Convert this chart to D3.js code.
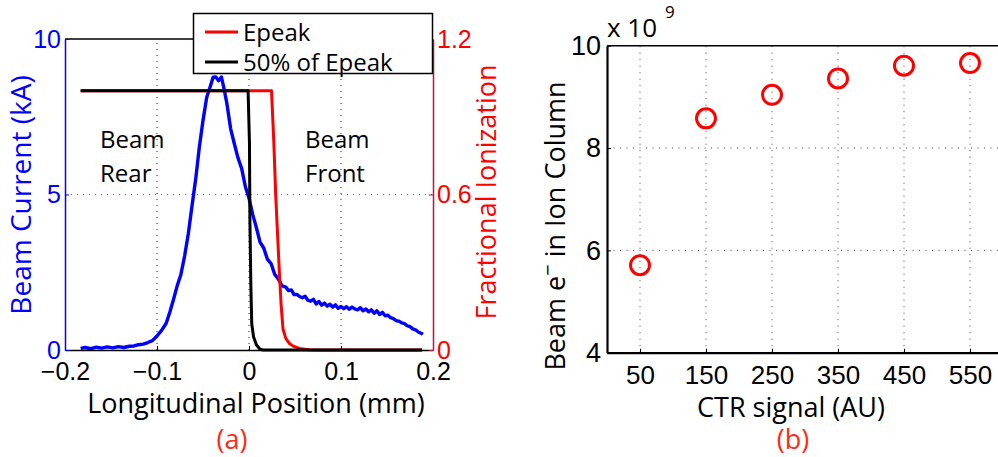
<!DOCTYPE html>
<html>
<head>
<meta charset="utf-8">
<script src="https://cdn.jsdelivr.net/npm/d3@7"></script>
<style>
  html, body { margin: 0; padding: 0; background: #fff; }
  svg { display: block; font-family: "Open Sans", sans-serif; }
</style>
</head>
<body>
<svg id="chart" width="998" height="457"></svg>
<script>
// ---------------- DATA ----------------
// Panel (a): beam current profile (kA) vs longitudinal position (mm)
const posMM = [-0.183,-0.178,-0.172,-0.166,-0.160,-0.154,-0.148,-0.142,-0.136,-0.130,-0.125,-0.120,-0.115,-0.110,-0.105,
  -0.100,-0.095,-0.090,-0.086,-0.082,-0.078,-0.074,-0.070,-0.066,-0.062,-0.058,-0.054,-0.050,-0.046,-0.042,-0.039,-0.036,
  -0.033,-0.030,-0.027,-0.024,-0.020,-0.016,-0.012,-0.008,-0.004,0.000,0.004,0.008,0.012,0.016,0.020,0.024,0.028,0.032,
  0.036,0.040,0.043,0.046,0.049,0.052,0.055,0.058,0.061,0.064,0.067,0.070,0.073,0.076,0.079,0.082,0.085,0.088,0.091,
  0.094,0.097,0.100,0.103,0.106,0.109,0.112,0.115,0.118,0.121,0.124,0.127,0.130,0.133,0.136,0.139,0.142,0.145,0.148,
  0.151,0.154,0.157,0.160,0.163,0.166,0.169,0.172,0.175,0.178,0.181,0.184,0.187,0.189];
const beamCurrentKA = [0.05,0.08,0.04,0.09,0.06,0.10,0.07,0.11,0.08,0.12,0.13,0.17,0.19,0.24,0.30,
  0.45,0.63,0.86,1.22,1.63,2.07,2.43,3.02,3.73,4.62,5.48,6.52,7.38,8.12,8.48,8.77,8.78,
  8.66,8.78,8.38,7.92,7.12,6.64,6.18,5.84,5.26,4.88,4.36,3.94,3.47,3.28,2.92,2.78,2.43,2.28,
  2.06,2.02,1.91,1.93,1.78,1.79,1.72,1.68,1.73,1.60,1.57,1.63,1.48,1.56,1.44,1.51,1.41,1.47,1.38,
  1.45,1.34,1.40,1.33,1.39,1.31,1.38,1.32,1.29,1.36,1.26,1.32,1.23,1.29,1.18,1.26,1.14,1.21,1.10,
  1.12,1.04,1.01,0.94,0.93,0.87,0.85,0.78,0.75,0.68,0.65,0.58,0.54,0.50];

// Fractional ionization, Epeak
const epeakX    = [-0.183,0.0245,0.027,0.029,0.031,0.033,0.035,0.037,0.040,0.044,0.048,0.055,0.065,0.075,0.188];
const epeakFrac = [1.0,   1.0,   0.80, 0.60, 0.45, 0.30, 0.17, 0.08, 0.045,0.025,0.015,0.006,0.001,0.0,  0.0];
// Fractional ionization, 50% of Epeak
const halfX     = [-0.183,-0.001,0.0005,0.001,0.002,0.003,0.005,0.008,0.012,0.015,0.188];
const halfFrac  = [1.0,   1.0,   0.80,  0.50, 0.25, 0.10, 0.05, 0.02, 0.003,0.0,  0.0];

const xTicksA   = [-0.2,-0.1,0,0.1,0.2];
const yTicksA   = [0,5,10];
const yTicksA2  = [0,0.6,1.2];
const xGridA    = [-0.1,0,0.1];

// Panel (b): beam electrons in ion column vs CTR signal
const ctrSignal     = [50,150,250,350,450,550];
const beamElectrons = [5.71,8.58,9.04,9.36,9.61,9.66];   // x 10^9
const yTicksB       = [4,6,8,10];
const yGridB        = [6,8];

const legendLabels = ["Epeak","50% of Epeak"];

// ---------------- DRAWING ----------------
const svg = d3.select("#chart");
const BLUE = "#0000ff", RED = "#ff0000", CRIMSON = "#c8103c", LBL_RED = "#ff2a14";

// ===== Panel (a) =====
const xA  = d3.scaleLinear().domain([-0.2,0.2]).range([65,433]);
const yA  = d3.scaleLinear().domain([0,10]).range([350,39]);
const yA2 = d3.scaleLinear().domain([0,1.2]).range([350,39]);

const gA = svg.append("g");
// grid
gA.selectAll(".vg").data(xGridA).join("line")
  .attr("x1", d => xA(d)).attr("x2", d => xA(d)).attr("y1", yA(0)).attr("y2", yA(10))
  .attr("stroke", "#222").attr("stroke-width", 1).attr("stroke-dasharray", "1,5");
gA.append("line").attr("x1", xA(-0.2)).attr("x2", xA(0.2)).attr("y1", yA(5)).attr("y2", yA(5))
  .attr("stroke", "#6a6aff").attr("stroke-width", 1).attr("stroke-dasharray", "1,5");

// lines
const lineA  = d3.line().x(d => xA(d[0])).y(d => yA(d[1]));
const lineA2 = d3.line().x(d => xA(d[0])).y(d => yA2(d[1]));
gA.append("path").datum(posMM.map((x,i) => [x, beamCurrentKA[i]])).attr("d", lineA)
  .attr("fill","none").attr("stroke", BLUE).attr("stroke-width", 3.4).attr("stroke-linejoin","round");
gA.append("path").datum(epeakX.map((x,i) => [x, epeakFrac[i]])).attr("d", lineA2)
  .attr("fill","none").attr("stroke", RED).attr("stroke-width", 3).attr("stroke-linejoin","round");
gA.append("path").datum(halfX.map((x,i) => [x, halfFrac[i]])).attr("d", lineA2)
  .attr("fill","none").attr("stroke", "#000").attr("stroke-width", 3).attr("stroke-linejoin","round");

// axes
const axBottomA = d3.axisBottom(xA).tickValues(xTicksA).tickSizeInner(-4).tickSizeOuter(0)
  .tickFormat(d => d === 0 ? "0" : d3.format(".1f")(d));
const gxA = gA.append("g").attr("transform", `translate(0,${yA(0)})`).call(axBottomA);
gxA.select(".domain").attr("stroke","#000").attr("stroke-width",1.5);
gxA.selectAll("text").attr("font-size", 25).attr("fill","#000").attr("y", 12).attr("dy","0.71em");

gA.append("line").attr("x1", xA(-0.2)).attr("x2", xA(0.2)).attr("y1", yA(10)).attr("y2", yA(10))
  .attr("stroke","#000").attr("stroke-width",1.5);

const axLeftA = d3.axisLeft(yA).tickValues(yTicksA).tickSizeInner(-4).tickSizeOuter(0).tickFormat(d3.format("d"));
const gyA = gA.append("g").attr("transform", `translate(${xA(-0.2)},0)`).call(axLeftA);
gyA.select(".domain").attr("stroke", BLUE).attr("stroke-width",1.5);
gyA.selectAll(".tick line").attr("stroke", BLUE);
gyA.selectAll("text").attr("font-size", 25).attr("fill", BLUE).attr("x", -4);

const axRightA = d3.axisRight(yA2).tickValues(yTicksA2).tickSizeInner(-4).tickSizeOuter(0)
  .tickFormat(d => d === 0 ? "0" : d3.format(".1f")(d));
const gyA2 = gA.append("g").attr("transform", `translate(${xA(0.2)},0)`).call(axRightA);
gyA2.select(".domain").attr("stroke", CRIMSON).attr("stroke-width",1.5);
gyA2.selectAll(".tick line").attr("stroke", CRIMSON);
gyA2.selectAll("text").attr("font-size", 25).attr("fill", RED).attr("x", 4);

// axis labels
gA.append("text").attr("x", (xA(-0.2)+xA(0.2))/2 + 7).attr("y", 413).attr("text-anchor","middle")
  .attr("font-size", 27).attr("fill","#000").text("Longitudinal Position (mm)");
gA.append("text").attr("transform", `translate(31,${195}) rotate(-90)`).attr("text-anchor","middle")
  .attr("font-size", 28).attr("fill", BLUE).text("Beam Current (kA)");
gA.append("text").attr("transform", `translate(496,${192}) rotate(-90)`).attr("text-anchor","middle")
  .attr("font-size", 27).attr("fill", RED).text("Fractional Ionization");
gA.append("text").attr("x", 232).attr("y", 449).attr("text-anchor","middle")
  .attr("font-size", 27).attr("fill", LBL_RED).text("(a)");

// annotations
const ann = [["Beam", 100, 148], ["Rear", 100, 182], ["Beam", 305, 148], ["Front", 305, 182]];
gA.selectAll(".ann").data(ann).join("text").attr("x", d => d[1]).attr("y", d => d[2])
  .attr("font-size", 24).attr("fill","#000").text(d => d[0]);

// legend
const lg = gA.append("g");
lg.append("rect").attr("x", 193.5).attr("y", 13.5).attr("width", 239).attr("height", 60)
  .attr("fill","#fff").attr("stroke","#000").attr("stroke-width",1.5);
const legColors = [RED, "#000"];
legendLabels.forEach((lab, i) => {
  const yy = 32 + i*30;
  lg.append("line").attr("x1", 205).attr("x2", 238).attr("y1", yy).attr("y2", yy)
    .attr("stroke", legColors[i]).attr("stroke-width", 3);
  lg.append("text").attr("x", 243).attr("y", yy + 8.5).attr("font-size", 24).attr("fill","#000").text(lab);
});

// ===== Panel (b) =====
const xB = d3.scaleLinear().domain([0,600]).range([607,1003]);
const yB = d3.scaleLinear().domain([4,10]).range([352.7,45.7]);
const gB = svg.append("g");

gB.selectAll(".vg").data(ctrSignal).join("line")
  .attr("x1", d => xB(d)).attr("x2", d => xB(d)).attr("y1", yB(4)).attr("y2", yB(10))
  .attr("stroke", "#444").attr("stroke-width", 1).attr("stroke-dasharray", "1,5.5");
gB.selectAll(".hg").data(yGridB).join("line")
  .attr("x1", xB(0)).attr("x2", xB(600)).attr("y1", d => yB(d)).attr("y2", d => yB(d))
  .attr("stroke", "#444").attr("stroke-width", 1).attr("stroke-dasharray", "1,5.5");

const axBottomB = d3.axisBottom(xB).tickValues(ctrSignal).tickSizeInner(-4).tickSizeOuter(0).tickFormat(d3.format("d"));
const gxB = gB.append("g").attr("transform", `translate(0,${yB(4)})`).call(axBottomB);
gxB.select(".domain").attr("stroke","#000").attr("stroke-width",2.2);
gxB.selectAll("text").attr("font-size", 26).attr("fill","#000").attr("y", 13).attr("dy","0.71em");

gB.append("line").attr("x1", xB(0)).attr("x2", xB(600)).attr("y1", yB(10)).attr("y2", yB(10))
  .attr("stroke","#000").attr("stroke-width",1.6);

const axLeftB = d3.axisLeft(yB).tickValues(yTicksB).tickSizeInner(-4).tickSizeOuter(0).tickFormat(d3.format("d"));
const gyB = gB.append("g").attr("transform", `translate(${xB(0)},0)`).call(axLeftB);
gyB.select(".domain").attr("stroke","#000").attr("stroke-width",2.2);
gyB.selectAll("text").attr("font-size", 27).attr("fill","#000").attr("x", -6);

gB.selectAll(".pt").data(ctrSignal.map((x,i) => [x, beamElectrons[i]])).join("circle")
  .attr("cx", d => xB(d[0])).attr("cy", d => yB(d[1])).attr("r", 9.5)
  .attr("fill","none").attr("stroke", RED).attr("stroke-width", 3);

// exponent
gB.append("text").attr("x", 607).attr("y", 37).attr("font-size", 26).attr("fill","#000").text("x 10");
gB.append("text").attr("x", 665).attr("y", 18).attr("font-size", 17).attr("fill","#000").text("9");

// labels
gB.append("text").attr("x", 791).attr("y", 417).attr("text-anchor","middle")
  .attr("font-size", 27).attr("fill","#000").text("CTR signal (AU)");
const yl = gB.append("text").attr("transform", `translate(565,${226}) rotate(-90)`).attr("text-anchor","middle")
  .attr("font-size", 27).attr("fill","#000");
yl.append("tspan").text("Beam e");
yl.append("tspan").attr("dy", -10).attr("font-size", 20).text("\u2212");
yl.append("tspan").attr("dy", 10).text(" in Ion Column");
gB.append("text").attr("x", 793).attr("y", 449).attr("text-anchor","middle")
  .attr("font-size", 27).attr("fill", LBL_RED).text("(b)");
</script>
</body>
</html>
